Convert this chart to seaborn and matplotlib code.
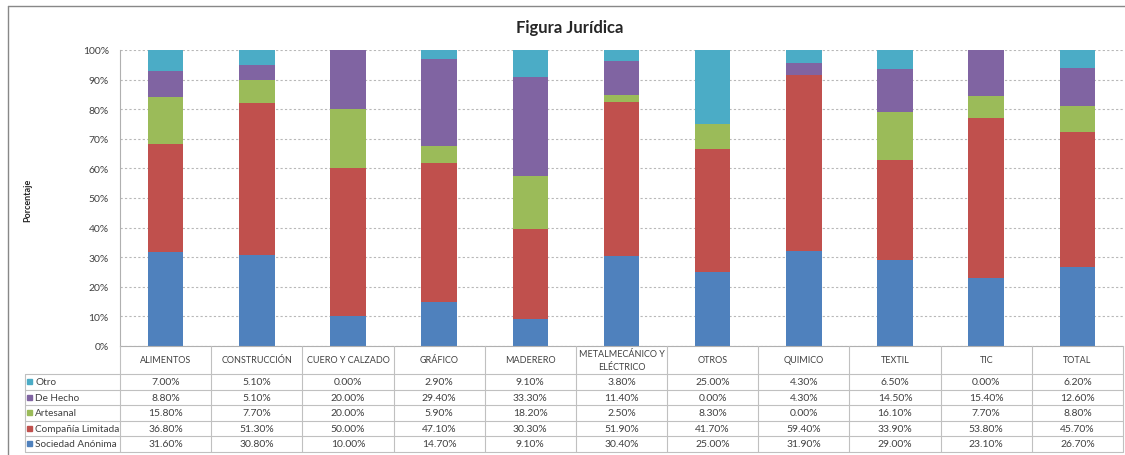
#! /usr/bin/env python3

# libraries
import matplotlib.pyplot as plt
import pandas as pd
import seaborn as sns
from matplotlib.lines import Line2D
from matplotlib.patches import Rectangle

sns.set_style("white")
plt.rcParams["font.family"] = ["Lato", "DejaVu Sans"]

# data (percent)
sectors = ["ALIMENTOS", "CONSTRUCCIÓN", "CUERO Y CALZADO", "GRÁFICO", "MADERERO",
           "METALMECÁNICO Y\nELÉCTRICO", "OTROS", "QUIMICO", "TEXTIL", "TIC", "TOTAL"]
series = ["Otro", "De Hecho", "Artesanal", "Compañía Limitada", "Sociedad Anónima"]
otro = [7.0, 5.1, 0.0, 2.9, 9.1, 3.8, 25.0, 4.3, 6.5, 0.0, 6.2]
de_hecho = [8.8, 5.1, 20.0, 29.4, 33.3, 11.4, 0.0, 4.3, 14.5, 15.4, 12.6]
artesanal = [15.8, 7.7, 20.0, 5.9, 18.2, 2.5, 8.3, 0.0, 16.1, 7.7, 8.8]
cia_limitada = [36.8, 51.3, 50.0, 47.1, 30.3, 51.9, 41.7, 59.4, 33.9, 53.8, 45.7]
soc_anonima = [31.6, 30.8, 10.0, 14.7, 9.1, 30.4, 25.0, 31.9, 29.0, 23.1, 26.7]
colors = ["#4BACC6", "#8064A2", "#9BBB59", "#C0504D", "#4F81BD"]

df = pd.DataFrame({"Otro": otro, "De Hecho": de_hecho, "Artesanal": artesanal,
                   "Compañía Limitada": cia_limitada, "Sociedad Anónima": soc_anonima},
                  index=sectors)
# cumulative from the bottom layer, normalised to 100%
stack = df[series[::-1]].cumsum(axis=1)
stack = stack.div(stack.iloc[:, -1], axis=0) * 100

W, H = 1125, 456
fig = plt.figure(figsize=(W / 100, H / 100), dpi=100)
x0, x1, y_top, y_bot = 120, 1123, 51, 347
ax = fig.add_axes([x0 / W, 1 - y_bot / H, (x1 - x0) / W, (y_bot - y_top) / H])

# draw tallest cumulative first, smaller ones on top
for name, col in zip(series, colors):
    sns.barplot(x=list(range(len(sectors))), y=stack[name].values, color=col,
                width=0.39, ax=ax, saturation=1, native_scale=True, linewidth=0)

ax.set_xlim(-0.5, len(sectors) - 0.5)
ax.set_ylim(0, 100)
ax.set_yticks(range(0, 101, 10))
ax.set_yticklabels([f"{v}%" for v in range(0, 101, 10)], fontsize=7.5, color="#404040")
ax.set_xticks([])
ax.set_xlabel("")
ax.yaxis.grid(True, linestyle=(0, (2, 2)), color="#b8b8b8", linewidth=0.8)
ax.set_axisbelow(True)
for s in ["top", "right"]:
    ax.spines[s].set_visible(False)
ax.spines["left"].set_color("#b0b0b0")
ax.spines["bottom"].set_color("#b0b0b0")
ax.tick_params(axis="y", length=0, pad=8)

fig.text(570 / W, 1 - 28 / H, "Figura Jurídica", ha="center", va="center",
         fontsize=12, fontweight="bold")
fig.text(28 / W, 1 - 200 / H, "Porcentaje", rotation=90, ha="center", va="center",
         fontsize=6.5, fontweight="bold")

# chart border
fig.add_artist(Line2D([8 / W, 8 / W], [0, 1 - 7 / H], color="#888888", lw=1))
fig.add_artist(Line2D([8 / W, 1 - 0.5 / W], [1 - 7 / H, 1 - 7 / H], color="#888888", lw=1))

# data table
col_w = (x1 - x0) / len(sectors)
row_y = [375, 390.5, 406, 421.5, 437, 452.5]
line_c = "#c0c0c0"
for i in range(len(sectors) + 1):
    xx = (x0 + i * col_w) / W
    fig.add_artist(Line2D([xx, xx], [1 - y_bot / H, 1 - row_y[-1] / H], color=line_c, lw=0.8))
fig.add_artist(Line2D([25 / W, 25 / W], [1 - row_y[0] / H, 1 - row_y[-1] / H], color=line_c, lw=0.8))
for yy in row_y:
    fig.add_artist(Line2D([25 / W, x1 / W], [1 - yy / H, 1 - yy / H], color=line_c, lw=0.8))

for i, s in enumerate(sectors):
    fig.text((x0 + (i + 0.5) * col_w) / W, 1 - 361 / H, s, ha="center", va="center",
             fontsize=6.5, color="#404040", linespacing=1.45)
for r, (name, col) in enumerate(zip(series, colors)):
    yc = 1 - (row_y[r] + row_y[r + 1]) / 2 / H
    fig.add_artist(Rectangle((27 / W, yc - 2.5 / H), 5 / W, 5 / H, color=col))
    fig.text(35 / W, yc, name, ha="left", va="center", fontsize=7.2, color="#404040")
    for i, v in enumerate(df[name].values):
        fig.text((x0 + (i + 0.5) * col_w) / W, yc, f"{v:.2f}%", ha="center", va="center",
                 fontsize=7.5, color="#404040")

plt.savefig("out.png", dpi=100)
